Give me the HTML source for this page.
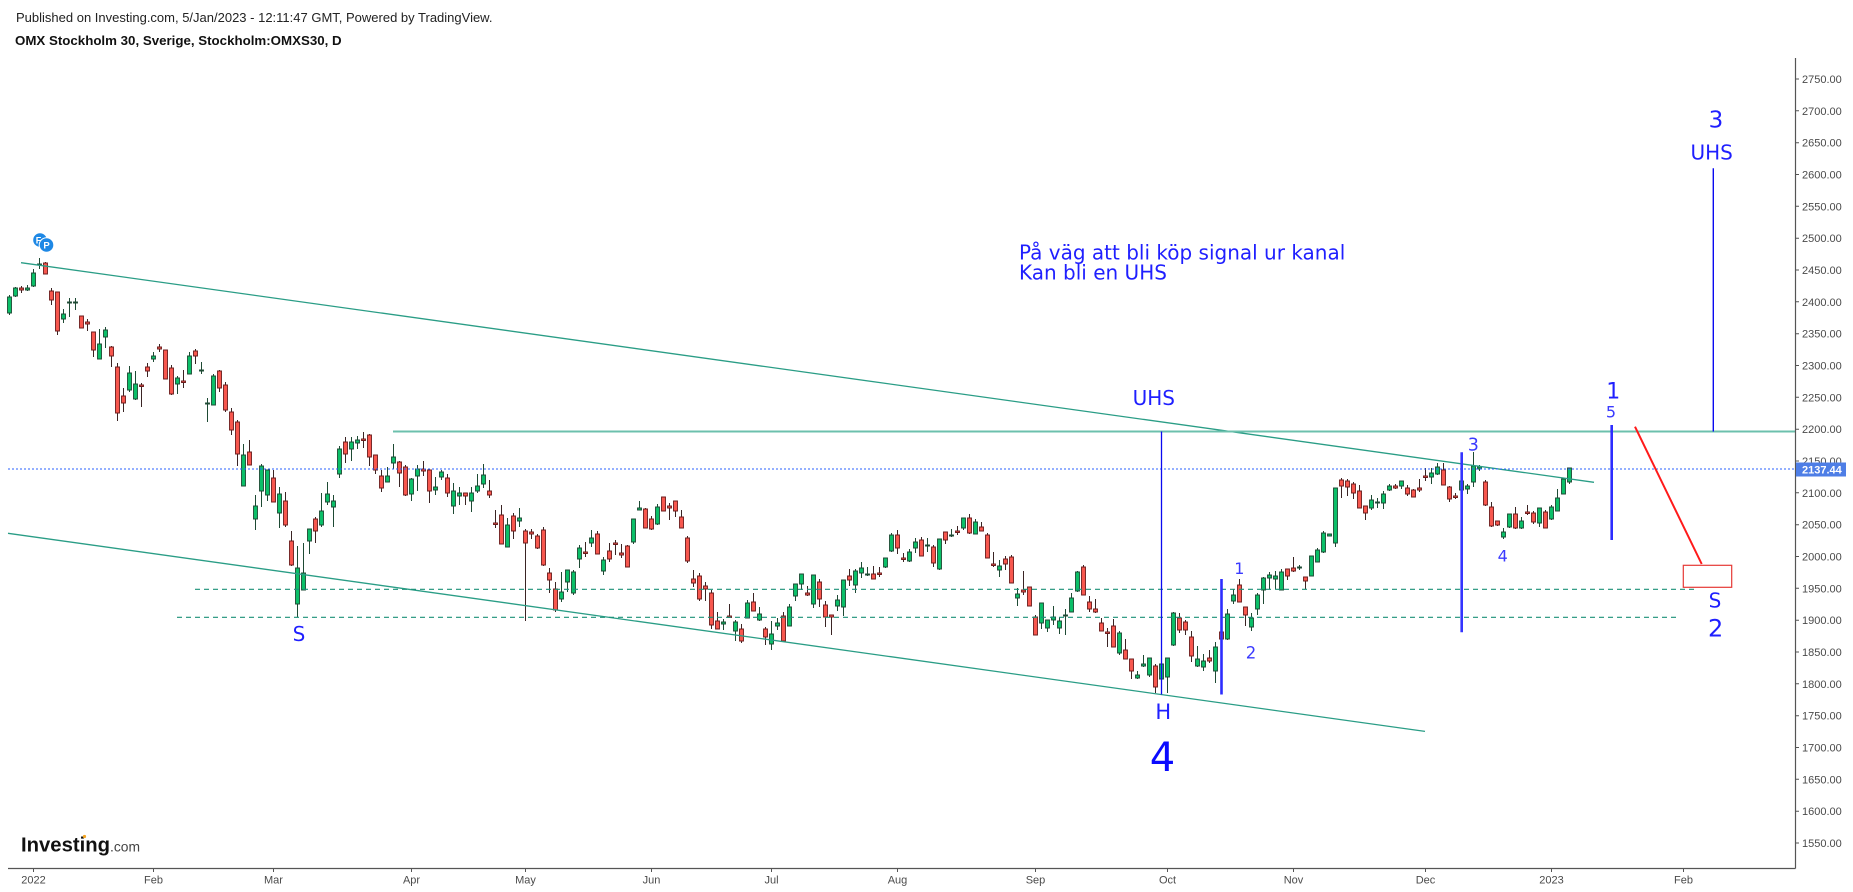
<!DOCTYPE html>
<html><head><meta charset="utf-8"><style>
html,body{margin:0;padding:0;background:#fff;}
svg{display:block;}
.ax{font-family:"Liberation Sans",Arial,sans-serif;font-size:11px;fill:#4a4a4a;}
.bl{font-family:"DejaVu Sans",Verdana,sans-serif;fill:#1f1fff;}
</style></head><body>
<svg width="1853" height="892" viewBox="0 0 1853 892" xmlns="http://www.w3.org/2000/svg">
<rect width="1853" height="892" fill="#fff"/>
<text x="16" y="22" font-family="Liberation Sans, Arial, sans-serif" font-size="13" fill="#222">Published on Investing.com, 5/Jan/2023 - 12:11:47 GMT, Powered by TradingView.</text>
<text x="15" y="45" font-family="Liberation Sans, Arial, sans-serif" font-size="13.3" font-weight="bold" fill="#111">OMX Stockholm 30, Sverige, Stockholm:OMXS30, D</text>

<!-- wicks -->
<path fill="none" stroke="#1e4a34" stroke-width="1" d="M9.5 295V315M15.5 287V297M27.5 285V291M33.5 269V287M39.5 258V269M63.5 309V323M69.5 298V317M75.5 298V310M99.5 329V359M105.5 327V348M129.5 366V392M135.5 371V400M153.5 352V362M177.5 376V394M189.5 352V374M201.5 362V374M207.5 398V422M213.5 374V405M243.5 444V486M255.5 495V530M261.5 464V507M267.5 470V501M279.5 487V528M297.5 546V617M303.5 543V590M309.5 529V554M321.5 493V527M327.5 482V505M333.5 495V527M339.5 446V478M351.5 437V461M357.5 436V449M387.5 467V482M393.5 444V469M411.5 478V501M417.5 465V491M435.5 477V495M441.5 470V480M453.5 483V514M459.5 487V505M471.5 487V512M477.5 474V493M483.5 464V488M507.5 518V547M519.5 508V527M561.5 572V602M567.5 570V592M573.5 570V595M579.5 545V568M591.5 530V547M603.5 557V575M633.5 519V544M639.5 501V510M657.5 504V525M723.5 619V630M735.5 620V641M747.5 600V618M759.5 607V621M771.5 621V650M777.5 618V630M789.5 604V626M795.5 584V601M801.5 574V590M813.5 575V608M837.5 595V611M843.5 580V616M855.5 569V593M861.5 562V578M867.5 567V576M885.5 558V568M891.5 533V552M909.5 549V562M915.5 538V553M927.5 538V552M939.5 539V570M951.5 529V537M963.5 518V530M975.5 519V534M999.5 560V577M1017.5 588V606M1041.5 603V629M1047.5 620V632M1053.5 606V625M1059.5 617V634M1065.5 609V635M1071.5 593V612M1077.5 571V592M1119.5 631V655M1137.5 671V679M1143.5 655V667M1149.5 658V677M1161.5 662V693M1167.5 658V693M1173.5 612V646M1197.5 646V667M1203.5 654V671M1215.5 642V683M1227.5 609V640M1233.5 589V604M1251.5 613V631M1257.5 593V615M1263.5 577V604M1269.5 572V589M1275.5 571V589M1281.5 569V590M1299.5 565V570M1311.5 556V576M1317.5 548V562M1323.5 531V553M1329.5 534V536M1335.5 488V547M1371.5 495V510M1377.5 498V508M1383.5 491V509M1389.5 484V491M1401.5 481V489M1431.5 468V484M1437.5 463V475M1461.5 480V493M1467.5 484V494M1473.5 452V487M1479.5 465V471M1503.5 528V539M1509.5 514V528M1521.5 517V529M1539.5 508V527M1551.5 505V520M1557.5 489V511M1563.5 479V494M1569.5 468V484"/>
<path fill="none" stroke="#3a2424" stroke-width="1" d="M21.5 286V293M45.5 262V274M51.5 288V305M57.5 292V335M81.5 316V328M87.5 319V331M93.5 332V357M111.5 346V367M117.5 363V421M123.5 388V412M141.5 383V407M147.5 363V377M159.5 344V352M165.5 350V379M171.5 365V395M183.5 370V388M195.5 349V364M219.5 370V392M225.5 382V412M231.5 408V435M237.5 420V466M249.5 440V465M273.5 470V502M285.5 492V527M291.5 531V566M315.5 517V543M345.5 437V463M363.5 432V448M369.5 434V466M375.5 455V474M381.5 470V492M399.5 461V487M405.5 465V496M423.5 461V476M429.5 470V503M447.5 474V497M465.5 493V505M489.5 480V498M495.5 510V528M501.5 505V544M513.5 513V539M525.5 529V621M531.5 529V539M537.5 534V549M543.5 527V566M549.5 568V593M555.5 582V612M585.5 542V557M597.5 531V554M609.5 543V562M615.5 540V555M621.5 544V558M627.5 545V567M645.5 508V528M651.5 516V530M663.5 497V511M669.5 503V520M675.5 501V517M681.5 510V528M687.5 536V563M693.5 570V587M699.5 573V601M705.5 582V601M711.5 590V629M717.5 612V629M729.5 604V618M741.5 624V643M753.5 593V611M765.5 627V645M783.5 612V641M807.5 586V596M819.5 579V607M825.5 601V627M831.5 615V635M849.5 569V586M873.5 566V579M879.5 567V577M897.5 530V554M903.5 553V562M921.5 537V556M933.5 545V567M945.5 532V544M957.5 526V535M969.5 514V534M981.5 522V531M987.5 533V558M993.5 552V567M1005.5 556V570M1011.5 555V583M1023.5 571V595M1029.5 587V606M1035.5 615V635M1083.5 565V595M1089.5 596V612M1095.5 599V613M1101.5 618V631M1107.5 628V647M1113.5 619V647M1125.5 639V659M1131.5 659V679M1155.5 664V693M1179.5 613V633M1185.5 620V635M1191.5 631V662M1209.5 650V663M1221.5 628V640M1239.5 579V602M1245.5 607V626M1287.5 569V580M1293.5 557V572M1305.5 577V589M1341.5 478V498M1347.5 479V496M1353.5 482V499M1359.5 485V508M1365.5 506V520M1395.5 484V489M1407.5 485V496M1413.5 489V497M1419.5 479V492M1425.5 468V481M1443.5 463V485M1449.5 486V502M1455.5 493V499M1485.5 480V506M1491.5 502V527M1497.5 521V526M1515.5 507V529M1527.5 505V515M1533.5 511V524M1545.5 510V528"/>

<!-- bodies -->
<path fill="#0bbf68" stroke="#1e4a34" stroke-width="0.9" d="M7.5 297h4v16h-4zM13.5 288h4v8h-4zM25.5 288h4v2h-4zM31.5 273h4v13h-4zM37.5 264h4v1h-4zM61.5 314h4v5h-4zM67.5 302h4v1h-4zM73.5 302h4v1h-4zM97.5 344h4v15h-4zM103.5 330h4v7h-4zM127.5 373h4v17h-4zM133.5 384h4v15h-4zM151.5 356h4v3h-4zM175.5 378h4v6h-4zM187.5 356h4v18h-4zM199.5 370h4v1h-4zM205.5 403h4v1h-4zM211.5 376h4v29h-4zM241.5 455h4v31h-4zM253.5 506h4v13h-4zM259.5 466h4v25h-4zM265.5 470h4v25h-4zM277.5 494h4v19h-4zM295.5 568h4v36h-4zM301.5 573h4v17h-4zM307.5 529h4v12h-4zM319.5 511h4v14h-4zM325.5 494h4v8h-4zM331.5 501h4v6h-4zM337.5 449h4v25h-4zM349.5 442h4v7h-4zM355.5 440h4v3h-4zM385.5 476h4v6h-4zM391.5 457h4v6h-4zM409.5 479h4v15h-4zM415.5 469h4v7h-4zM433.5 487h4v3h-4zM439.5 472h4v5h-4zM451.5 491h4v15h-4zM457.5 493h4v3h-4zM469.5 493h4v8h-4zM475.5 486h4v5h-4zM481.5 475h4v9h-4zM505.5 525h4v22h-4zM517.5 518h4v3h-4zM559.5 592h4v7h-4zM565.5 570h4v12h-4zM571.5 572h4v21h-4zM577.5 548h4v11h-4zM589.5 538h4v5h-4zM601.5 560h4v11h-4zM631.5 519h4v23h-4zM637.5 508h4v2h-4zM655.5 507h4v17h-4zM721.5 622h4v2h-4zM733.5 622h4v9h-4zM745.5 603h4v15h-4zM757.5 614h4v6h-4zM769.5 634h4v10h-4zM775.5 623h4v3h-4zM787.5 607h4v19h-4zM793.5 584h4v12h-4zM799.5 574h4v10h-4zM811.5 575h4v29h-4zM835.5 600h4v6h-4zM841.5 580h4v27h-4zM853.5 571h4v14h-4zM859.5 568h4v5h-4zM865.5 574h4v1h-4zM883.5 558h4v9h-4zM889.5 535h4v16h-4zM907.5 552h4v9h-4zM913.5 542h4v6h-4zM925.5 545h4v1h-4zM937.5 539h4v30h-4zM949.5 535h4v1h-4zM961.5 518h4v10h-4zM973.5 522h4v12h-4zM997.5 566h4v4h-4zM1015.5 594h4v4h-4zM1039.5 603h4v20h-4zM1045.5 620h4v8h-4zM1051.5 617h4v3h-4zM1057.5 621h4v7h-4zM1063.5 615h4v1h-4zM1069.5 598h4v14h-4zM1075.5 572h4v19h-4zM1117.5 633h4v20h-4zM1135.5 675h4v3h-4zM1141.5 664h4v2h-4zM1147.5 658h4v17h-4zM1159.5 664h4v15h-4zM1165.5 658h4v19h-4zM1171.5 613h4v32h-4zM1195.5 659h4v7h-4zM1201.5 661h4v6h-4zM1213.5 647h4v24h-4zM1225.5 614h4v25h-4zM1231.5 595h4v6h-4zM1249.5 618h4v9h-4zM1255.5 595h4v14h-4zM1261.5 578h4v12h-4zM1267.5 575h4v3h-4zM1273.5 576h4v3h-4zM1279.5 572h4v18h-4zM1297.5 567h4v1h-4zM1309.5 556h4v20h-4zM1315.5 550h4v12h-4zM1321.5 533h4v19h-4zM1327.5 534h4v2h-4zM1333.5 488h4v55h-4zM1369.5 500h4v8h-4zM1375.5 502h4v1h-4zM1381.5 494h4v9h-4zM1387.5 486h4v4h-4zM1399.5 481h4v5h-4zM1429.5 473h4v4h-4zM1435.5 467h4v7h-4zM1459.5 481h4v9h-4zM1465.5 486h4v3h-4zM1471.5 466h4v16h-4zM1477.5 467h4v2h-4zM1501.5 532h4v5h-4zM1507.5 514h4v13h-4zM1519.5 521h4v7h-4zM1537.5 508h4v15h-4zM1549.5 507h4v12h-4zM1555.5 498h4v13h-4zM1561.5 479h4v15h-4zM1567.5 468h4v14h-4z"/>
<path fill="#f7574e" stroke="#6b1d1d" stroke-width="0.9" d="M19.5 288h4v2h-4zM43.5 263h4v11h-4zM49.5 291h4v9h-4zM55.5 292h4v39h-4zM79.5 316h4v12h-4zM85.5 322h4v2h-4zM91.5 332h4v18h-4zM109.5 347h4v9h-4zM115.5 367h4v46h-4zM121.5 396h4v7h-4zM139.5 385h4v1.5h-4zM145.5 367h4v4h-4zM157.5 347h4v2h-4zM163.5 350h4v29h-4zM169.5 368h4v26h-4zM181.5 381h4v1.5h-4zM193.5 351h4v5h-4zM217.5 371h4v17h-4zM223.5 385h4v25h-4zM229.5 412h4v18h-4zM235.5 422h4v32h-4zM247.5 452h4v13h-4zM271.5 478h4v24h-4zM283.5 501h4v24h-4zM289.5 541h4v24h-4zM313.5 519h4v12h-4zM343.5 442h4v12h-4zM361.5 439h4v1.5h-4zM367.5 435h4v22h-4zM373.5 455h4v15h-4zM379.5 476h4v12h-4zM397.5 462h4v11h-4zM403.5 467h4v28h-4zM421.5 469h4v2h-4zM427.5 470h4v21h-4zM445.5 478h4v15h-4zM463.5 493h4v3h-4zM487.5 491h4v4h-4zM493.5 523h4v1.5h-4zM499.5 515h4v29h-4zM511.5 516h4v15h-4zM523.5 531h4v12h-4zM529.5 532h4v2h-4zM535.5 536h4v12h-4zM541.5 530h4v35h-4zM547.5 573h4v7h-4zM553.5 589h4v21h-4zM583.5 552h4v1.5h-4zM595.5 534h4v20h-4zM607.5 551h4v8h-4zM613.5 543h4v1.5h-4zM619.5 553h4v2h-4zM625.5 546h4v21h-4zM643.5 509h4v19h-4zM649.5 519h4v10h-4zM661.5 497h4v14h-4zM667.5 506h4v2h-4zM673.5 501h4v10h-4zM679.5 517h4v11h-4zM685.5 538h4v23h-4zM691.5 579h4v4h-4zM697.5 576h4v23h-4zM703.5 586h4v3h-4zM709.5 593h4v32h-4zM715.5 621h4v8h-4zM727.5 616h4v1.5h-4zM739.5 629h4v12h-4zM751.5 602h4v9h-4zM763.5 629h4v8h-4zM781.5 616h4v25h-4zM805.5 593h4v2h-4zM817.5 582h4v17h-4zM823.5 605h4v12h-4zM829.5 615h4v2h-4zM847.5 576h4v4h-4zM871.5 574h4v5h-4zM877.5 573h4v1.5h-4zM895.5 535h4v13h-4zM901.5 558h4v1.5h-4zM919.5 540h4v16h-4zM931.5 547h4v16h-4zM943.5 532h4v8h-4zM955.5 531h4v1.5h-4zM967.5 518h4v15h-4zM979.5 527h4v4h-4zM985.5 535h4v23h-4zM991.5 564h4v1.5h-4zM1003.5 559h4v5h-4zM1009.5 557h4v26h-4zM1021.5 590h4v2h-4zM1027.5 587h4v19h-4zM1033.5 617h4v18h-4zM1081.5 567h4v28h-4zM1087.5 602h4v7h-4zM1093.5 609h4v3h-4zM1099.5 623h4v8h-4zM1105.5 632h4v1.5h-4zM1111.5 626h4v21h-4zM1123.5 650h4v9h-4zM1129.5 659h4v12h-4zM1153.5 666h4v21h-4zM1177.5 618h4v12h-4zM1183.5 622h4v8h-4zM1189.5 637h4v19h-4zM1207.5 658h4v3h-4zM1219.5 632h4v7h-4zM1237.5 585h4v17h-4zM1243.5 607h4v8h-4zM1285.5 569h4v7h-4zM1291.5 568h4v3h-4zM1303.5 577h4v4h-4zM1339.5 480h4v6h-4zM1345.5 481h4v6h-4zM1351.5 484h4v9h-4zM1357.5 491h4v17h-4zM1363.5 506h4v7h-4zM1393.5 486h4v2h-4zM1405.5 488h4v6h-4zM1411.5 490h4v7h-4zM1417.5 488h4v2h-4zM1423.5 476h4v1.5h-4zM1441.5 470h4v15h-4zM1447.5 487h4v12h-4zM1453.5 496h4v1.5h-4zM1483.5 482h4v23h-4zM1489.5 507h4v19h-4zM1495.5 521h4v4h-4zM1513.5 514h4v14h-4zM1525.5 512h4v1.5h-4zM1531.5 513h4v9h-4zM1543.5 512h4v16h-4z"/>

<!-- drawings -->
<line x1="21" y1="262.7" x2="1594" y2="482.3" stroke="#2a9d86" stroke-width="1.3"/>
<line x1="8" y1="533.3" x2="1425" y2="731.4" stroke="#2a9d86" stroke-width="1.3"/>
<line x1="393" y1="431.5" x2="1795" y2="431.5" stroke="#6cc0ad" stroke-width="2"/>
<line x1="195" y1="589.3" x2="1698" y2="589.3" stroke="#1b9178" stroke-width="1.2" stroke-dasharray="5 4"/>
<line x1="177" y1="617.3" x2="1680" y2="617.3" stroke="#1b9178" stroke-width="1.2" stroke-dasharray="5 4"/>
<line x1="8" y1="469" x2="1795" y2="469" stroke="#2962ff" stroke-width="1" stroke-dasharray="2 2"/>

<line x1="1161.5" y1="431.5" x2="1161.5" y2="694.5" stroke="#0a0af0" stroke-width="1.3"/>
<line x1="1221.5" y1="579" x2="1221.5" y2="694.5" stroke="#2d2dff" stroke-width="2.6"/>
<line x1="1461.7" y1="452.3" x2="1461.7" y2="632.3" stroke="#3535ff" stroke-width="2.6"/>
<line x1="1611.7" y1="425" x2="1611.7" y2="540" stroke="#2d2dff" stroke-width="2.6"/>
<line x1="1713.3" y1="168.3" x2="1713.3" y2="431.5" stroke="#0a0af0" stroke-width="1.4"/>
<line x1="1635" y1="426.7" x2="1701.7" y2="564" stroke="#ff1a1a" stroke-width="2"/>
<rect x="1683.3" y="565.3" width="48.4" height="22" fill="none" stroke="#e53935" stroke-width="1.2"/>

<!-- FP icons -->
<circle cx="40" cy="240" r="7.3" fill="#1e88e5" stroke="#fff" stroke-width="1"/>
<text x="38.5" y="243.5" font-family="Liberation Sans, Arial, sans-serif" font-size="9" font-weight="bold" fill="#fff" text-anchor="middle">F</text>
<circle cx="46.5" cy="245" r="7.3" fill="#1e88e5" stroke="#fff" stroke-width="1"/>
<text x="46.5" y="248.5" font-family="Liberation Sans, Arial, sans-serif" font-size="9.5" font-weight="bold" fill="#fff" text-anchor="middle">P</text>

<!-- annotations -->
<text class="bl" x="1019" y="259.3" font-size="20">På väg att bli köp signal ur kanal</text>
<text class="bl" x="1019" y="279.3" font-size="20">Kan bli en UHS</text>
<text class="bl" x="1153.8" y="405" font-size="20" text-anchor="middle">UHS</text>
<text class="bl" x="1163.3" y="719" font-size="21" text-anchor="middle">H</text>
<text class="bl" x="1162.5" y="771" font-size="40" text-anchor="middle" style="fill:#0a0aff">4</text>
<text class="bl" x="299" y="641" font-size="20" text-anchor="middle">S</text>
<text class="bl" x="1239.3" y="574" font-size="16" text-anchor="middle" style="fill:#3a3aff">1</text>
<text class="bl" x="1251" y="658.3" font-size="16.5" text-anchor="middle" style="fill:#3a3aff">2</text>
<text class="bl" x="1473.3" y="450.7" font-size="17.5" text-anchor="middle" style="fill:#3a3aff">3</text>
<text class="bl" x="1502.7" y="561.7" font-size="16" text-anchor="middle" style="fill:#3a3aff">4</text>
<text class="bl" x="1613.3" y="398.3" font-size="22" text-anchor="middle">1</text>
<text class="bl" x="1611" y="417.7" font-size="16" text-anchor="middle" style="fill:#3a3aff">5</text>
<text class="bl" x="1716" y="127.3" font-size="23" text-anchor="middle">3</text>
<text class="bl" x="1711.7" y="159.3" font-size="20" text-anchor="middle">UHS</text>
<text class="bl" x="1715" y="607.7" font-size="20" text-anchor="middle">S</text>
<text class="bl" x="1715.7" y="636.7" font-size="24" text-anchor="middle">2</text>

<!-- axes -->
<line x1="1795.5" y1="58" x2="1795.5" y2="868.5" stroke="#555" stroke-width="1.2"/>
<line x1="8" y1="868.5" x2="1795.5" y2="868.5" stroke="#555" stroke-width="1.2"/>
<path stroke="#555" stroke-width="1" fill="none" d="M1795 79h4M1795 110.8h4M1795 142.7h4M1795 174.5h4M1795 206.3h4M1795 238.2h4M1795 270h4M1795 301.8h4M1795 333.7h4M1795 365.5h4M1795 397.3h4M1795 429.2h4M1795 461h4M1795 492.8h4M1795 524.7h4M1795 556.5h4M1795 588.3h4M1795 620.2h4M1795 652h4M1795 683.8h4M1795 715.7h4M1795 747.5h4M1795 779.3h4M1795 811.2h4M1795 843h4M33.5 868v4M153.5 868v4M273.5 868v4M411.5 868v4M525.5 868v4M651.5 868v4M771.5 868v4M897.5 868v4M1035.5 868v4M1167.5 868v4M1293.5 868v4M1425.5 868v4M1551.5 868v4M1683.5 868v4"/>
<g class="ax">
<text x="1802" y="83">2750.00</text>
<text x="1802" y="114.8">2700.00</text>
<text x="1802" y="146.7">2650.00</text>
<text x="1802" y="178.5">2600.00</text>
<text x="1802" y="210.3">2550.00</text>
<text x="1802" y="242.2">2500.00</text>
<text x="1802" y="274">2450.00</text>
<text x="1802" y="305.8">2400.00</text>
<text x="1802" y="337.7">2350.00</text>
<text x="1802" y="369.5">2300.00</text>
<text x="1802" y="401.3">2250.00</text>
<text x="1802" y="433.2">2200.00</text>
<text x="1802" y="465">2150.00</text>
<text x="1802" y="496.8">2100.00</text>
<text x="1802" y="528.7">2050.00</text>
<text x="1802" y="560.5">2000.00</text>
<text x="1802" y="592.3">1950.00</text>
<text x="1802" y="624.2">1900.00</text>
<text x="1802" y="656">1850.00</text>
<text x="1802" y="687.8">1800.00</text>
<text x="1802" y="719.7">1750.00</text>
<text x="1802" y="751.5">1700.00</text>
<text x="1802" y="783.3">1650.00</text>
<text x="1802" y="815.2">1600.00</text>
<text x="1802" y="847">1550.00</text>
</g>
<rect x="1796" y="462.5" width="50" height="14" fill="#4e7ee6"/>
<text x="1802" y="473.6" font-family="Liberation Sans, Arial, sans-serif" font-size="11" font-weight="bold" fill="#fff">2137.44</text>

<g class="ax" text-anchor="middle">
<text x="33.5" y="883.3">2022</text>
<text x="153.5" y="883.3">Feb</text>
<text x="273.5" y="883.3">Mar</text>
<text x="411.5" y="883.3">Apr</text>
<text x="525.5" y="883.3">May</text>
<text x="651.5" y="883.3">Jun</text>
<text x="771.5" y="883.3">Jul</text>
<text x="897.5" y="883.3">Aug</text>
<text x="1035.5" y="883.3">Sep</text>
<text x="1167.5" y="883.3">Oct</text>
<text x="1293.5" y="883.3">Nov</text>
<text x="1425.5" y="883.3">Dec</text>
<text x="1551.5" y="883.3">2023</text>
<text x="1683.5" y="883.3">Feb</text>
</g>

<!-- logo -->
<text x="21" y="851.7" font-family="Liberation Sans, Arial, sans-serif" font-size="20" font-weight="bold" fill="#111" textLength="89" lengthAdjust="spacingAndGlyphs">Investing</text>
<circle cx="84.5" cy="836.5" r="1.6" fill="#f5a623"/>
<text x="110" y="851.7" font-family="Liberation Sans, Arial, sans-serif" font-size="14" fill="#444" textLength="30" lengthAdjust="spacingAndGlyphs">.com</text>
</svg>
</body></html>
